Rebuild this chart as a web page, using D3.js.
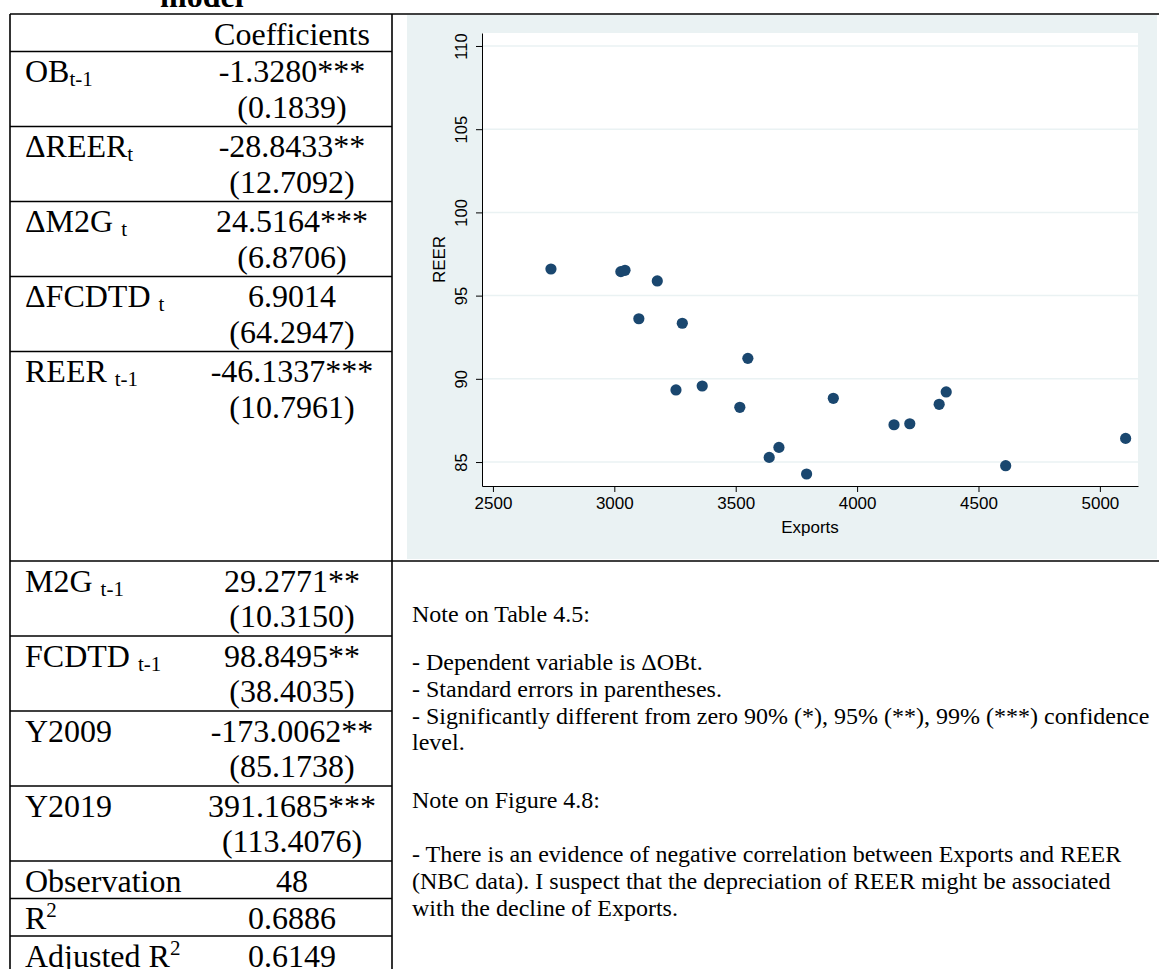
<!DOCTYPE html>
<html>
<head>
<meta charset="utf-8">
<script src="https://cdn.jsdelivr.net/npm/d3@7"></script>
<style>
  body { margin: 0; background: #fff; }
  svg { display: block; }
</style>
</head>
<body>
<svg id="page" width="1159" height="969"></svg>
<script>
// scatter: Exports vs REER
const exportsVals = [2739, 3027, 3044, 3177, 3101, 3280, 3550, 3254, 3362, 3517,
                     3638, 3678, 3792, 3902, 4152, 4217, 4338, 4367, 4612, 5106];
const reerVals = [96.60, 96.44, 96.52, 95.88, 93.61, 93.34, 91.23, 89.33, 89.57, 88.29,
                  85.28, 85.88, 84.28, 88.83, 87.24, 87.30, 88.47, 89.21, 84.78, 86.42];
const xTickVals = [2500, 3000, 3500, 4000, 4500, 5000];
const yTickVals = [85, 90, 95, 100, 105, 110];

// regression table
const varNames = ["OB", "ΔREER", "ΔM2G ", "ΔFCDTD ", "REER ", "M2G ", "FCDTD ", "Y2009", "Y2019"];
const varSubs = ["t-1", "t", "t", "t", "t-1", "t-1", "t-1", "", ""];
const coefs = ["-1.3280***", "-28.8433**", "24.5164***", "6.9014", "-46.1337***",
               "29.2771**", "98.8495**", "-173.0062**", "391.1685***"];
const stdErrs = ["(0.1839)", "(12.7092)", "(6.8706)", "(64.2947)", "(10.7961)",
                 "(10.3150)", "(38.4035)", "(85.1738)", "(113.4076)"];
const statNames = ["Observation", "R", "Adjusted R"];
const statSups = ["", "2", "2"];
const statValues = ["48", "0.6886", "0.6149"];

// notes to the right of the table
const noteParagraphs = [
  ["Note on Table 4.5:"],
  ["- Dependent variable is ΔOBt.",
   "- Standard errors in parentheses.",
   "- Significantly different from zero 90% (*), 95% (**), 99% (***) confidence",
   "level."],
  ["Note on Figure 4.8:"],
  ["- There is an evidence of negative correlation between Exports and REER",
   "(NBC data). I suspect that the depreciation of REER might be associated",
   "with the decline of Exports."]
];

const svg = d3.select("#page");
svg.append("rect").attr("width", 1159).attr("height", 969).attr("fill", "#fff");

const serif = "'Liberation Serif', 'Times New Roman', serif";
const sans = "'Liberation Sans', Arial, sans-serif";

// ---------- table ----------
const tableLeft = 10, tableRight = 392, tableTop = 14;
const labelX = 25, valueX = 292;
const lineH = 37.5;
const chartBottom = 561;
const firstBase = 30.5, secondBase = 66;

// title line above the table, mostly cut off by the page edge
svg.append("text")
  .attr("x", 160).attr("y", 7)
  .attr("font-family", serif).attr("font-size", 32).attr("font-weight", "bold")
  .text("model");

const tbl = svg.append("g").attr("font-family", serif).attr("font-size", 32).attr("fill", "#000");

// header row
tbl.append("text").attr("x", valueX).attr("y", tableTop + firstBase)
  .attr("text-anchor", "middle").text("Coefficients");

// work out row tops
let rowTops = [];
let y = tableTop + lineH;
varNames.forEach((d, i) => {
  rowTops.push(y);
  if (i === 4) y = chartBottom;       // REER t-1 cell stretches down to the chart's bottom
  else y += 2 * lineH;
});
let statTops = [];
statNames.forEach(() => { statTops.push(y); y += lineH; });

function addLabel(g, base, small, top, sup) {
  const t = g.append("text").attr("x", labelX).attr("y", top + firstBase);
  t.append("tspan").text(base);
  if (small) {
    t.append("tspan").attr("font-size", 21).attr("dy", sup ? -12 : 4).text(small);
  }
}

varNames.forEach((name, i) => {
  const top = rowTops[i];
  addLabel(tbl, name, varSubs[i], top, false);
  tbl.append("text").attr("x", valueX).attr("y", top + firstBase)
    .attr("text-anchor", "middle").text(coefs[i]);
  tbl.append("text").attr("x", valueX).attr("y", top + secondBase)
    .attr("text-anchor", "middle").text(stdErrs[i]);
});

statNames.forEach((name, i) => {
  const top = statTops[i];
  addLabel(tbl, name, statSups[i], top, true);
  tbl.append("text").attr("x", valueX).attr("y", top + firstBase)
    .attr("text-anchor", "middle").text(statValues[i]);
});

// borders
const borders = svg.append("g").attr("stroke", "#000").attr("stroke-width", 1.6);
borders.append("line").attr("x1", tableLeft).attr("x2", 1159).attr("y1", tableTop).attr("y2", tableTop);
borders.append("line").attr("x1", tableRight).attr("x2", 1159).attr("y1", chartBottom).attr("y2", chartBottom);
[tableTop + lineH].concat(rowTops.slice(1), statTops).forEach(yy => {
  borders.append("line").attr("x1", tableLeft).attr("x2", tableRight).attr("y1", yy).attr("y2", yy);
});
borders.append("line").attr("x1", tableLeft).attr("x2", tableLeft).attr("y1", tableTop).attr("y2", 969);
borders.append("line").attr("x1", tableRight).attr("x2", tableRight).attr("y1", tableTop).attr("y2", 969);

// ---------- scatter (Stata s2color look) ----------
const panel = { x: 407, y: 15, w: 750, h: 544 };
const plot = { left: 482, right: 1138, top: 33, bottom: 486 };

svg.append("rect").attr("x", panel.x).attr("y", panel.y)
  .attr("width", panel.w).attr("height", panel.h).attr("fill", "#eaf2f3");
svg.append("rect").attr("x", plot.left).attr("y", plot.top)
  .attr("width", plot.right - plot.left).attr("height", plot.bottom - plot.top).attr("fill", "#fff");

const x = d3.scaleLinear().domain([2455, 5157]).range([plot.left, plot.right]);
const yScale = d3.scaleLinear().domain([83.56, 110.78]).range([plot.bottom, plot.top]);

// gridlines
svg.append("g").selectAll("line").data(yTickVals).join("line")
  .attr("x1", plot.left).attr("x2", plot.right)
  .attr("y1", d => yScale(d)).attr("y2", d => yScale(d))
  .attr("stroke", "#eaf2f3").attr("stroke-width", 1.5);

// x axis
const gx = svg.append("g").attr("transform", `translate(0,${plot.bottom})`)
  .call(d3.axisBottom(x).tickValues(xTickVals).tickFormat(d3.format("d"))
    .tickSize(6).tickSizeOuter(0).tickPadding(5));
gx.selectAll("text").attr("font-family", sans).attr("font-size", 17).attr("fill", "#000");
gx.selectAll("line, path").attr("stroke", "#000");

// y axis, labels turned sideways like Stata
const gy = svg.append("g").attr("transform", `translate(${plot.left},0)`)
  .call(d3.axisLeft(yScale).tickValues(yTickVals).tickFormat(d3.format("d"))
    .tickSize(6).tickSizeOuter(0));
gy.selectAll("line, path").attr("stroke", "#000");
gy.selectAll("text")
  .attr("x", null).attr("dy", null)
  .attr("transform", "translate(-15,0) rotate(-90)")
  .attr("text-anchor", "middle")
  .attr("font-family", sans).attr("font-size", 16.5).attr("fill", "#000");

// axis titles
svg.append("text")
  .attr("x", (plot.left + plot.right) / 2).attr("y", 533)
  .attr("text-anchor", "middle").attr("font-family", sans).attr("font-size", 17)
  .text("Exports");
svg.append("text")
  .attr("transform", `translate(445,${(plot.top + plot.bottom) / 2}) rotate(-90)`)
  .attr("text-anchor", "middle").attr("font-family", sans).attr("font-size", 17)
  .text("REER");

// points
svg.append("g").selectAll("circle").data(exportsVals).join("circle")
  .attr("cx", d => x(d))
  .attr("cy", (d, i) => yScale(reerVals[i]))
  .attr("r", 5.6)
  .attr("fill", "#1a476f");

// ---------- notes ----------
const notes = svg.append("g").attr("font-family", serif).attr("font-size", 24).attr("fill", "#000");
const paraStarts = [622, 670, 808, 862];
const pitch = 26.8;
noteParagraphs.forEach((lines, p) => {
  lines.forEach((line, k) => {
    notes.append("text").attr("x", 412).attr("y", paraStarts[p] + k * pitch).text(line);
  });
});
</script>
</body>
</html>
